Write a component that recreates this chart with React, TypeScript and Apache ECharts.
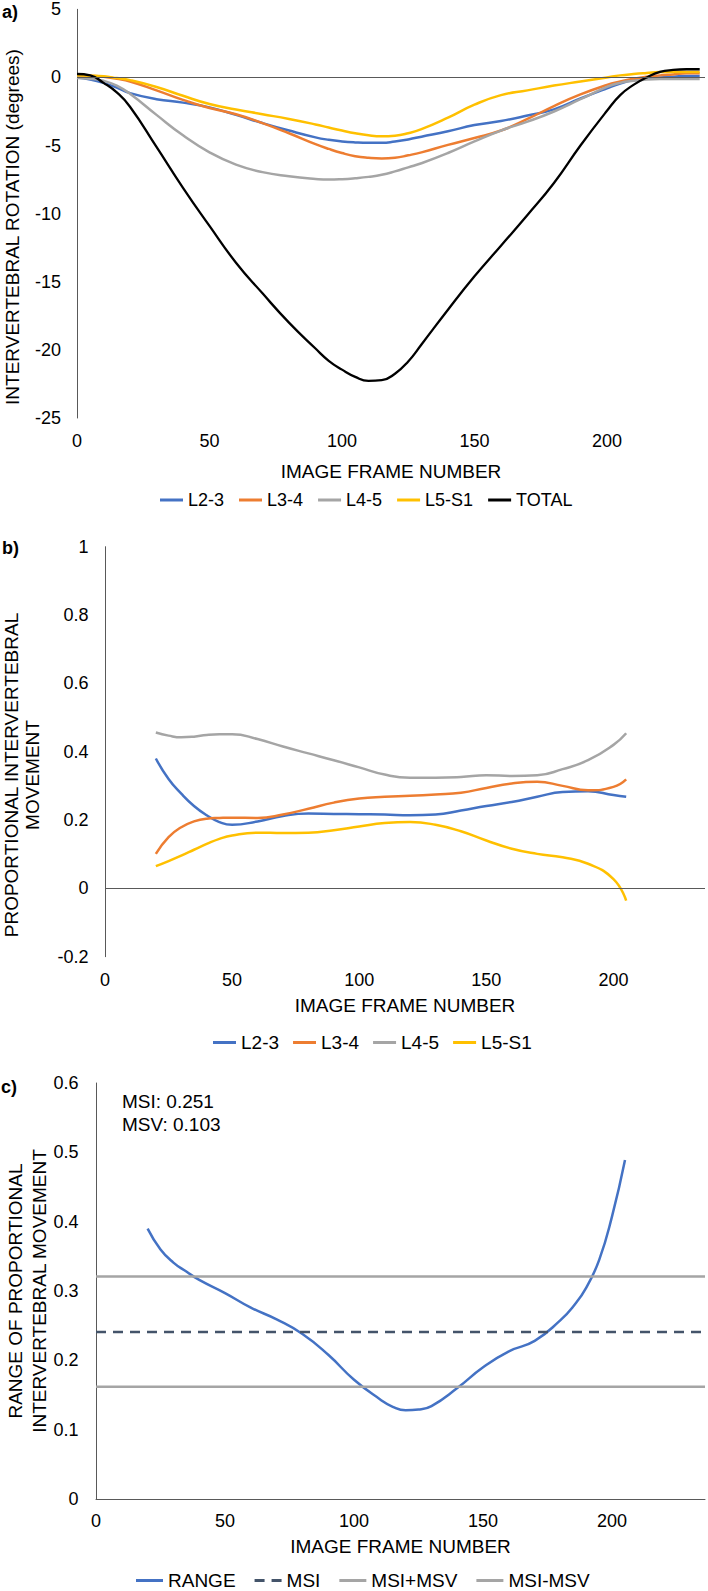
import { useEffect, useRef } from "react";
import * as echarts from "echarts";

const FONT = "'Liberation Sans', Arial, sans-serif";
const TEXT = "#000000";
const AXIS = "#595959";

// Panel a: intervertebral rotation (degrees) per image frame
const FRAMES_A = [0, 5, 10, 15, 20, 30, 40, 50, 60, 70, 80, 90, 95, 100, 105, 110, 115, 120, 125, 130, 140, 150, 160, 170, 180, 190, 200, 205, 210, 215, 220, 225, 230, 235];
const ROT_L23 = [0, -0.15, -0.4, -0.75, -1.15, -1.6, -1.85, -2.2, -2.75, -3.35, -3.9, -4.4, -4.58, -4.7, -4.77, -4.8, -4.8, -4.7, -4.55, -4.35, -3.95, -3.5, -3.2, -2.8, -2.35, -1.55, -0.8, -0.45, -0.2, -0.07, 0.0, 0.05, 0.1, 0.1];
const ROT_L34 = [0.15, 0.12, 0.05, -0.1, -0.3, -0.95, -1.65, -2.25, -2.7, -3.35, -4.1, -4.9, -5.25, -5.55, -5.78, -5.9, -5.95, -5.9, -5.72, -5.5, -4.95, -4.45, -3.9, -3.05, -2.1, -1.25, -0.55, -0.3, -0.1, 0.05, 0.15, 0.22, 0.3, 0.3];
const ROT_L45 = [-0.05, -0.1, -0.25, -0.6, -1.2, -2.75, -4.25, -5.5, -6.4, -6.95, -7.25, -7.45, -7.5, -7.47, -7.4, -7.3, -7.15, -6.9, -6.6, -6.3, -5.55, -4.7, -3.9, -3.25, -2.5, -1.6, -0.7, -0.4, -0.25, -0.15, -0.12, -0.12, -0.12, -0.12];
const ROT_L5S1 = [0.15, 0.13, 0.08, -0.05, -0.2, -0.7, -1.35, -1.95, -2.35, -2.7, -3.05, -3.45, -3.68, -3.9, -4.1, -4.25, -4.32, -4.28, -4.1, -3.8, -2.95, -2.0, -1.3, -0.95, -0.6, -0.3, 0.0, 0.15, 0.25, 0.33, 0.4, 0.4, 0.4, 0.4];
const ROT_TOTAL = [0.25, 0.15, -0.4, -1.1, -2.15, -5.1, -8.1, -10.9, -13.6, -15.85, -18.0, -19.9, -20.8, -21.45, -21.98, -22.27, -22.22, -21.75, -20.85, -19.6, -17.05, -14.6, -12.35, -10.1, -7.75, -5.0, -2.45, -1.3, -0.55, 0.0, 0.4, 0.55, 0.6, 0.6];

// Panel b: proportional intervertebral movement
const FRAMES_B = [20, 25, 30, 35, 40, 45, 50, 60, 70, 80, 90, 100, 110, 120, 130, 140, 150, 160, 170, 180, 190, 200, 205];
const PROP_L23 = [0.38, 0.32, 0.277, 0.241, 0.214, 0.194, 0.186, 0.196, 0.212, 0.219, 0.218, 0.217, 0.216, 0.214, 0.216, 0.228, 0.241, 0.253, 0.268, 0.282, 0.284, 0.273, 0.268];
const PROP_L34 = [0.101, 0.15, 0.179, 0.196, 0.204, 0.206, 0.207, 0.206, 0.216, 0.233, 0.251, 0.263, 0.268, 0.271, 0.275, 0.28, 0.294, 0.307, 0.312, 0.3, 0.287, 0.297, 0.319];
const PROP_L45 = [0.456, 0.447, 0.442, 0.444, 0.449, 0.451, 0.451, 0.437, 0.415, 0.395, 0.375, 0.354, 0.333, 0.324, 0.324, 0.326, 0.331, 0.329, 0.331, 0.349, 0.375, 0.42, 0.454];
const PROP_L5S1 = [0.065, 0.08, 0.096, 0.113, 0.13, 0.145, 0.155, 0.163, 0.162, 0.163, 0.17, 0.181, 0.191, 0.194, 0.186, 0.167, 0.14, 0.116, 0.101, 0.091, 0.072, 0.027, -0.036];

// Panel c: range of proportional movement + MSI bands
const FRAMES_C = [20, 25, 30, 35, 40, 50, 60, 70, 80, 90, 100, 110, 115, 120, 125, 130, 140, 150, 160, 170, 180, 185, 190, 195, 200, 205];
const RANGE = [0.39, 0.36, 0.341, 0.328, 0.316, 0.297, 0.276, 0.259, 0.238, 0.208, 0.172, 0.144, 0.133, 0.128, 0.129, 0.134, 0.16, 0.19, 0.213, 0.228, 0.258, 0.278, 0.305, 0.345, 0.408, 0.489];
const LEVEL_FRAMES = [0, 236];
const MSI_LEVEL = 0.241;
const MSI_PLUS = 0.321;
const MSI_MINUS = 0.162;

const COLORS: Record<string, string> = {
  "L2-3": "#4472C4",
  "L3-4": "#ED7D31",
  "L4-5": "#A5A5A5",
  "L5-S1": "#FFC000",
  TOTAL: "#000000",
  RANGE: "#4472C4",
  MSI: "#44546A",
  "MSI+MSV": "#A5A5A5",
  "MSI-MSV": "#A5A5A5",
};

const LINE_ICON = "rect";
const DASH_ICON = "path://M0,0h10v3h-10z M17,0h10v3h-10z";

const pairs = (xs: number[], ys: number[]) => xs.map((x, i) => [x, ys[i]]);

const zeroLine = {
  silent: true,
  symbol: ["none", "none"],
  label: { show: false },
  lineStyle: { color: AXIS, width: 1, type: "solid" },
  emphasis: { disabled: true },
  data: [{ yAxis: 0 }],
};

function lineSeries(name: string, data: number[][], grid: number, extra: any = {}) {
  const { lineStyle, ...rest } = extra;
  return {
    name,
    type: "line",
    xAxisIndex: grid,
    yAxisIndex: grid,
    data,
    smooth: 0.5,
    symbol: "none",
    itemStyle: { color: COLORS[name] },
    emphasis: { disabled: true },
    ...rest,
    lineStyle: { color: COLORS[name], width: name === "TOTAL" ? 2.3 : 2.5, ...(lineStyle ?? {}) },
  };
}

function xAxis(grid: number, max: number, nameGap: number, margin: number, showLine: boolean) {
  return {
    type: "value",
    gridIndex: grid,
    min: 0,
    max,
    interval: 50,
    name: "IMAGE FRAME NUMBER",
    nameLocation: "middle",
    nameGap,
    nameTextStyle: { fontSize: 19, color: TEXT, fontFamily: FONT },
    axisLine: { show: showLine, onZero: false, lineStyle: { color: AXIS, width: 1 } },
    axisTick: { show: false },
    splitLine: { show: false },
    axisLabel: {
      margin,
      fontSize: 18,
      color: TEXT,
      fontFamily: FONT,
      formatter: (v: number) => (v % 50 === 0 ? String(v) : ""),
    },
  };
}

function yAxis(grid: number, min: number, max: number, interval: number, margin: number) {
  return {
    type: "value",
    gridIndex: grid,
    min,
    max,
    interval,
    axisLine: { show: true, onZero: false, lineStyle: { color: AXIS, width: 1 } },
    axisTick: { show: false },
    splitLine: { show: false },
    axisLabel: { margin, fontSize: 18, color: TEXT, fontFamily: FONT },
  };
}

function legend(names: string[], left: number, top: number, itemWidth: number, itemGap: number, fontSize: number) {
  return {
    data: names.map((n) => ({ name: n, icon: n === "MSI" ? DASH_ICON : LINE_ICON })),
    left,
    top,
    padding: 0,
    itemWidth,
    itemHeight: 3,
    itemGap,
    selectedMode: false,
    textStyle: { fontSize, color: TEXT, fontFamily: FONT },
  };
}

function text(x: number, y: number, t: string, opts: any = {}) {
  return {
    type: "text",
    x,
    y,
    rotation: opts.rotation ?? 0,
    silent: true,
    style: {
      text: t,
      fill: TEXT,
      font: `${opts.weight ?? "normal"} ${opts.size ?? 19}px ${FONT}`,
      textAlign: opts.align ?? "left",
      textVerticalAlign: "middle",
      lineHeight: opts.lineHeight ?? 22,
    },
  };
}

function buildOption(): echarts.EChartsOption {
  const namesA = ["L2-3", "L3-4", "L4-5", "L5-S1", "TOTAL"];
  const namesB = ["L2-3", "L3-4", "L4-5", "L5-S1"];
  const namesC = ["RANGE", "MSI", "MSI+MSV", "MSI-MSV"];
  const rotA = [ROT_L23, ROT_L34, ROT_L45, ROT_L5S1, ROT_TOTAL];
  const propB = [PROP_L23, PROP_L34, PROP_L45, PROP_L5S1];
  const half = Math.PI / 2;

  return {
    animation: false,
    grid: [
      { left: 77, top: 9.3, width: 631, height: 408.7 },
      { left: 105, top: 546.7, width: 603, height: 410 },
      { left: 96, top: 1083, width: 612, height: 416 },
    ],
    xAxis: [xAxis(0, 237, 44, 14, false), xAxis(1, 236, 39, 14.5, false), xAxis(2, 236, 38, 12.5, true)],
    yAxis: [yAxis(0, -25, 5, 5, 16), yAxis(1, -0.2, 1, 0.2, 16.5), yAxis(2, 0, 0.6, 0.1, 17.5)],
    legend: [
      legend(namesA, 160, 491, 23, 15, 18),
      legend(namesB, 213, 1033, 23, 14, 19),
      legend(namesC, 136, 1571, 27, 19, 19),
    ],
    series: [
      ...namesA.map((n, i) =>
        lineSeries(n, pairs(FRAMES_A, rotA[i]), 0, i === 0 ? { markLine: zeroLine } : {})
      ),
      ...namesB.map((n, i) =>
        lineSeries(n, pairs(FRAMES_B, propB[i]), 1, i === 0 ? { markLine: zeroLine } : {})
      ),
      lineSeries("RANGE", pairs(FRAMES_C, RANGE), 2, { z: 3 }),
      lineSeries("MSI", pairs(LEVEL_FRAMES, [MSI_LEVEL, MSI_LEVEL]), 2, {
        smooth: false,
        lineStyle: { type: [10, 7] },
      }),
      lineSeries("MSI+MSV", pairs(LEVEL_FRAMES, [MSI_PLUS, MSI_PLUS]), 2, { smooth: false }),
      lineSeries("MSI-MSV", pairs(LEVEL_FRAMES, [MSI_MINUS, MSI_MINUS]), 2, { smooth: false }),
    ] as any,
    graphic: [
      text(2, 11.7, "a)", { weight: "bold", size: 18 }),
      text(2, 548, "b)", { weight: "bold", size: 18 }),
      text(1, 1087, "c)", { weight: "bold", size: 18 }),
      text(12.5, 227, "INTERVERTEBRAL ROTATION (degrees)", { rotation: half, align: "center" }),
      text(21.7, 775, "PROPORTIONAL INTERVERTEBRAL\nMOVEMENT", { rotation: half, align: "center", lineHeight: 21 }),
      text(27.7, 1291, "RANGE OF PROPORTIONAL\nINTERVERTEBRAL MOVEMENT", { rotation: half, align: "center", lineHeight: 24 }),
      text(122, 1101.6, "MSI: 0.251"),
      text(122, 1124.5, "MSV: 0.103"),
    ] as any,
  };
}

export default function App() {
  const ref = useRef<HTMLDivElement>(null);

  useEffect(() => {
    document.body.style.margin = "0";
    if (!ref.current) return;
    const chart = echarts.init(ref.current, undefined, { renderer: "svg" });
    chart.setOption(buildOption());
    return () => chart.dispose();
  }, []);

  return <div ref={ref} style={{ width: 708, height: 1591, background: "#fff" }} />;
}
